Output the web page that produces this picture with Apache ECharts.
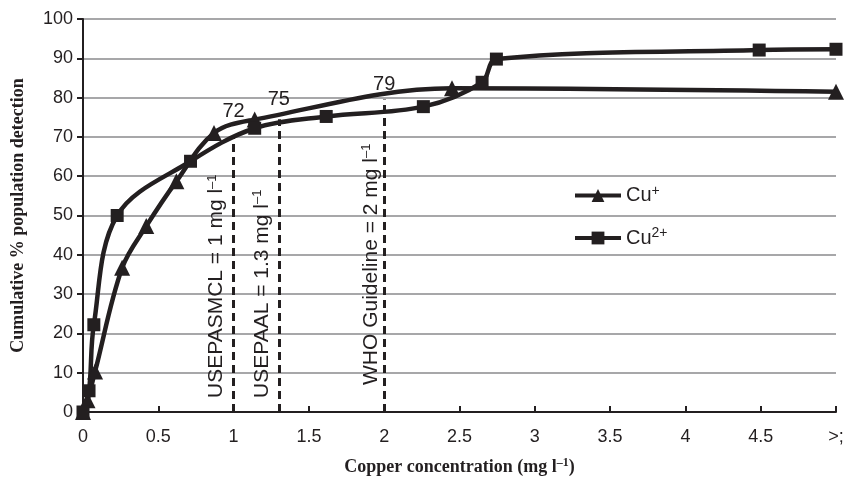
<!DOCTYPE html>
<html><head><meta charset="utf-8">
<script src="https://cdn.jsdelivr.net/npm/echarts@6/dist/echarts.min.js"></script>
<style>html,body{margin:0;padding:0;background:#fff}#c{width:848px;height:483px}</style>
</head><body><div id="c"></div>
<script>
// ---- data ----
const cuPlusX = [0, 0.03, 0.08, 0.26, 0.42, 0.62, 0.87, 1.14, 2.45, 5];
const cuPlusY = [0, 3, 10.3, 36.7, 47.3, 58.7, 71, 74.4, 82.4, 81.5];
const cu2X = [0, 0.04, 0.072, 0.227, 0.714, 1.14, 1.615, 2.26, 2.65, 2.745, 4.49, 5];
const cu2Y = [0, 5.4, 22.2, 50, 63.8, 72.2, 75.2, 77.7, 83.9, 89.8, 92.1, 92.3];
const guideX = [1, 1.3, 2];
const guideTop = [70.5, 74.5, 79.5];
const guideValue = [72, 75, 79];
const guideText = ['USEPASMCL = 1 mg l', 'USEPAAL = 1.3 mg l', 'WHO Guideline = 2 mg l'];
const xTickLabels = ['0', '0.5', '1', '1.5', '2', '2.5', '3', '3.5', '4', '4.5', '>;'];
const seriesNames = ['Cu+', 'Cu2+'];

const INK = '#231f20';
const sans = '"Liberation Sans", Arial, sans-serif';
const serif = '"Liberation Serif", "Times New Roman", serif';
const supRich = {
  t: { fontFamily: sans, fontSize: 21, color: INK },
  s: { fontFamily: sans, fontSize: 13, color: INK, padding: [0, 0, 9, 0] }
};
const guideOffsets = [[14, 6], [14, 6], [27, 2]];

const chart = echarts.init(document.getElementById('c'), null, { renderer: 'canvas' });
chart.setOption({
  animation: false,
  backgroundColor: '#fff',
  grid: { left: 83, right: 12, top: 19, bottom: 71 },
  legend: {
    orient: 'vertical', left: 568, top: 179,
    itemWidth: 46, itemHeight: 16, itemGap: 21,
    data: seriesNames,
    lineStyle: { width: 4 },
    formatter: n => n === 'Cu+' ? '{b|Cu}{s|+}' : '{b|Cu}{s|2+}',
    textStyle: {
      rich: {
        b: { fontFamily: sans, fontSize: 20, color: INK },
        s: { fontFamily: sans, fontSize: 14, color: INK, padding: [0, 0, 9, 0] }
      }
    }
  },
  xAxis: {
    type: 'value', min: 0, max: 5, interval: 0.5,
    name: '{a|Copper concentration (mg l}{s|–1}{a|)}',
    nameLocation: 'middle', nameGap: 45,
    nameTextStyle: {
      rich: {
        a: { fontFamily: serif, fontWeight: 'bold', fontSize: 18, color: INK },
        s: { fontFamily: serif, fontWeight: 'bold', fontSize: 12, color: INK, padding: [0, 0, 9, 0] }
      }
    },
    axisLine: { onZero: false, lineStyle: { color: INK, width: 2 } },
    axisTick: { show: true, inside: true, length: 6, lineStyle: { color: INK, width: 2 } },
    axisLabel: {
      margin: 16, fontFamily: sans, fontSize: 18, color: INK,
      formatter: v => xTickLabels[Math.round(v / 0.5)]
    },
    splitLine: { show: false }
  },
  yAxis: {
    type: 'value', min: 0, max: 100, interval: 10,
    name: 'Cumulative % population detection',
    nameLocation: 'middle', nameGap: 56, nameRotate: 90,
    nameTextStyle: { fontFamily: serif, fontWeight: 'bold', fontSize: 18, color: INK },
    axisLine: { show: true, lineStyle: { color: INK, width: 2 } },
    axisTick: { show: true, length: 6, lineStyle: { color: INK, width: 2 } },
    axisLabel: { margin: 10, fontFamily: sans, fontSize: 18, color: INK },
    splitLine: { show: true, lineStyle: { color: '#a7a7a9', width: 2 } }
  },
  series: [
    {
      name: 'guides', type: 'line', data: [], silent: true, z: 1,
      markLine: {
        silent: true, symbol: ['none', 'none'],
        lineStyle: { color: INK, width: 3, type: [8, 5] },
        data: guideX.map((x, i) => [
          {
            coord: [x, 0],
            label: {
              show: true, position: 'insideStartTop', distance: guideOffsets[i],
              formatter: '{t|' + guideText[i] + '}{s|–1}', rich: supRich
            }
          },
          { coord: [x, guideTop[i]] }
        ])
      },
      markPoint: {
        silent: true, symbol: 'circle', symbolSize: 1,
        itemStyle: { color: 'rgba(0,0,0,0)' },
        label: { show: true, position: 'top', distance: 7, fontFamily: sans, fontSize: 20, color: INK },
        data: guideX.map((x, i) => ({ coord: [x, guideValue[i]], value: guideValue[i] }))
      }
    },
    {
      name: 'Cu+', type: 'line', smooth: 0.35, z: 3,
      data: cuPlusX.map((x, i) => [x, cuPlusY[i]]),
      symbol: 'triangle', symbolSize: 16,
      lineStyle: { color: INK, width: 4.5 },
      itemStyle: { color: INK }
    },
    {
      name: 'Cu2+', type: 'line', smooth: 0.35, z: 3,
      data: cu2X.map((x, i) => [x, cu2Y[i]]),
      symbol: 'rect', symbolSize: 13,
      lineStyle: { color: INK, width: 4.5 },
      itemStyle: { color: INK }
    }
  ]
});
</script></body></html>
